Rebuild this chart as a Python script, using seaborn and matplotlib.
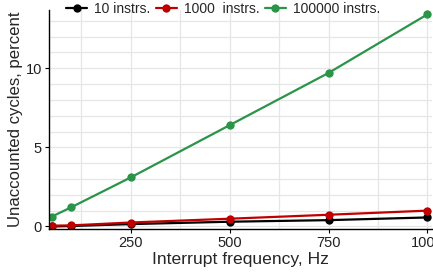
import pandas as pd
import matplotlib.pyplot as plt
import seaborn as sns
from matplotlib.ticker import MultipleLocator

# datos
freq_hz = [50, 100, 250, 500, 750, 1000]
ciclos_10 = [0.0, 0.03, 0.15, 0.30, 0.40, 0.57]
ciclos_1000 = [0.05, 0.07, 0.25, 0.49, 0.74, 1.00]
ciclos_100000 = [0.62, 1.22, 3.10, 6.40, 9.70, 13.40]
series = ['10 instrs.', '1000  instrs.', '100000 instrs.']

df = pd.concat([
    pd.DataFrame({'freq': freq_hz, 'ciclos': ciclos_10, 'serie': series[0]}),
    pd.DataFrame({'freq': freq_hz, 'ciclos': ciclos_1000, 'serie': series[1]}),
    pd.DataFrame({'freq': freq_hz, 'ciclos': ciclos_100000, 'serie': series[2]}),
])

sns.set_style('white')
plt.rcParams['font.family'] = ['Liberation Sans', 'DejaVu Sans']

fig = plt.figure(figsize=(4.33, 2.73), dpi=100)
ax = fig.add_axes([0.113, 0.160, 0.885, 0.803])

sns.lineplot(
    data=df, x='freq', y='ciclos', hue='serie',
    palette={series[0]: 'black', series[1]: '#c00000', series[2]: '#2a9448'},
    marker='o', markersize=6, markeredgewidth=0, linewidth=1.6, ax=ax
)

ax.set_xlim(43, 1012)
ax.set_ylim(-0.18, 13.67)
ax.xaxis.set_major_locator(MultipleLocator(250))
ax.xaxis.set_minor_locator(MultipleLocator(125))
ax.yaxis.set_major_locator(MultipleLocator(5))
ax.yaxis.set_minor_locator(MultipleLocator(1))
ax.grid(True, which='both', color='#e6e6e6', linewidth=0.9)
ax.set_axisbelow(True)

for s in ['top', 'right']:
    ax.spines[s].set_visible(False)
for s in ['left', 'bottom']:
    ax.spines[s].set_color('black')
    ax.spines[s].set_linewidth(1.0)

ax.tick_params(which='major', length=3, width=0.8, color='black', labelsize=10.5, labelcolor='#222222', pad=2, bottom=True, left=True)
ax.tick_params(which='minor', length=0)

ax.set_xlabel('Interrupt frequency, Hz', fontsize=12.6, labelpad=1.5)
ax.set_ylabel('Unaccounted cycles, percent', fontsize=12.1, labelpad=2)

ax.legend(loc='center', bbox_to_anchor=(0.515, 0.967), bbox_transform=fig.transFigure,
          ncol=3, frameon=False, fontsize=10, handlelength=1.5, handletextpad=0.5,
          columnspacing=0.4, borderaxespad=0)

plt.savefig('out.png', dpi=100)
plt.close()
